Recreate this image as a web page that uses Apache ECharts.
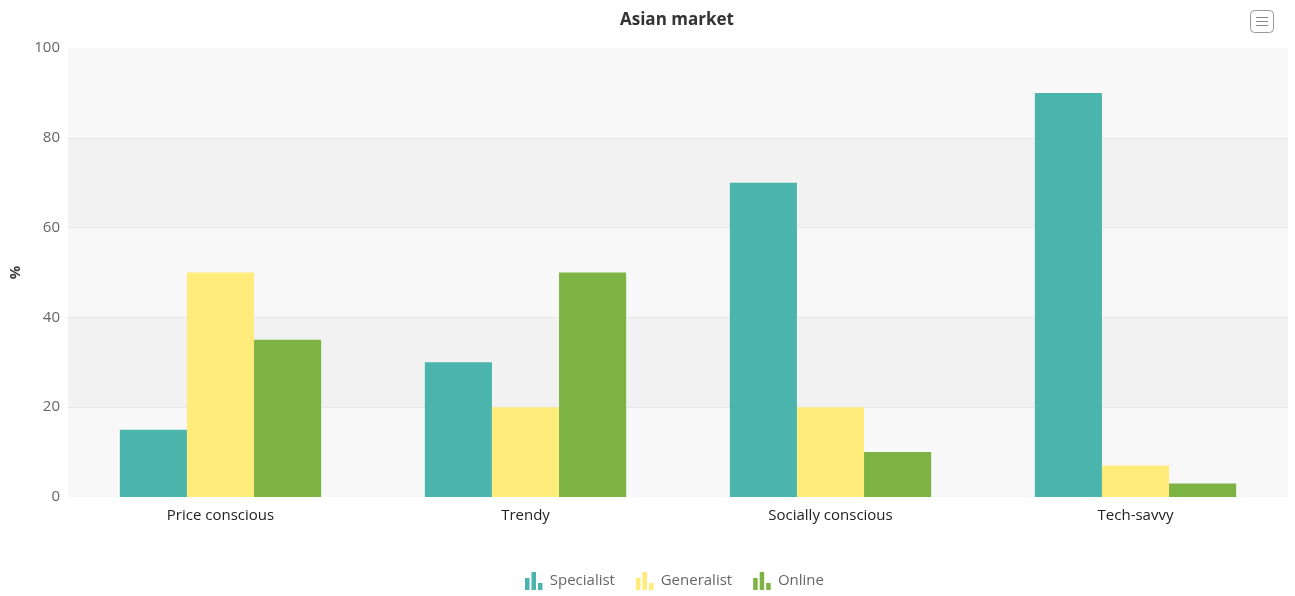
<!DOCTYPE html>
<html>
<head>
<meta charset="utf-8">
<script src="https://cdn.jsdelivr.net/npm/echarts@6/dist/echarts.min.js"></script>
<style>
html,body{margin:0;padding:0;background:#fff;}
#chart{width:1295px;height:596px;}
</style>
</head>
<body>
<div id="chart"></div>
<script>
const categories = ['Price conscious', 'Trendy', 'Socially conscious', 'Tech-savvy'];
const seriesNames = ['Specialist', 'Generalist', 'Online'];
const specialist = [15, 30, 70, 90];
const generalist = [50, 20, 20, 7];
const online = [35, 50, 10, 3];
const yTicks = [0, 20, 40, 60, 80, 100];
const colors = ['#4bb5ad', '#ffec7b', '#7db342'];

const FONT = '"Open Sans", "Noto Sans", sans-serif';
const legendIcon = 'path://M0,6H4.5V18H0Z M6.5,0H11V18H6.5Z M13,11H17.5V18H13Z';

const chart = echarts.init(document.getElementById('chart'), null, {renderer: 'canvas'});
const data = [specialist, generalist, online];
chart.setOption({
  backgroundColor: '#fff',
  color: colors,
  textStyle: {fontFamily: FONT},
  title: {
    text: 'Asian market',
    left: 615,
    top: 7,
    textStyle: {fontSize: 17, fontWeight: 'bold', color: '#333', fontFamily: FONT}
  },
  graphic: [
    {
      type: 'group', right: 21, top: 10, silent: true,
      children: [
        {type: 'rect', shape: {x: 0.5, y: 0.5, width: 23, height: 22, r: 4}, style: {fill: '#fff', stroke: '#999', lineWidth: 1}},
        {type: 'line', shape: {x1: 6, y1: 7.5, x2: 18, y2: 7.5}, style: {stroke: '#888', lineWidth: 1}},
        {type: 'line', shape: {x1: 6, y1: 11.5, x2: 18, y2: 11.5}, style: {stroke: '#888', lineWidth: 1}},
        {type: 'line', shape: {x1: 6, y1: 15.5, x2: 18, y2: 15.5}, style: {stroke: '#888', lineWidth: 1}}
      ]
    }
  ],
  legend: {
    bottom: 1,
    left: 520,
    itemWidth: 18,
    itemHeight: 18,
    itemGap: 21,
    icon: legendIcon,
    textStyle: {fontSize: 15, color: '#666', fontFamily: FONT, padding: [0, 0, 0, 2]},
    data: seriesNames
  },
  grid: {left: 68, right: 7, top: 48, bottom: 99, containLabel: false, outerBoundsMode: 'none'},
  xAxis: {
    type: 'category',
    data: categories,
    axisLine: {show: false},
    axisTick: {show: false},
    axisLabel: {fontSize: 15, color: '#222', margin: 11, fontFamily: FONT},
    splitLine: {show: false}
  },
  yAxis: {
    type: 'value',
    min: yTicks[0],
    max: yTicks[yTicks.length - 1],
    interval: 20,
    name: '%',
    nameLocation: 'middle',
    nameGap: 43,
    nameRotate: 90,
    nameTextStyle: {fontSize: 15, fontWeight: 'bold', color: '#444', fontFamily: FONT},
    axisLine: {show: false},
    axisTick: {show: false},
    axisLabel: {fontSize: 15, color: '#666', margin: 8, fontFamily: FONT},
    splitLine: {show: true, showMinLine: false, showMaxLine: false, lineStyle: {color: '#e6e6e6', width: 1}},
    splitArea: {show: true, areaStyle: {color: ['#f8f8f8', '#f2f2f2']}}
  },
  series: seriesNames.map((n, i) => ({
    name: n,
    type: 'bar',
    data: data[i],
    barGap: '0%',
    barCategoryGap: '34%',
    itemStyle: {color: colors[i]}
  }))
});
</script>
</body>
</html>
